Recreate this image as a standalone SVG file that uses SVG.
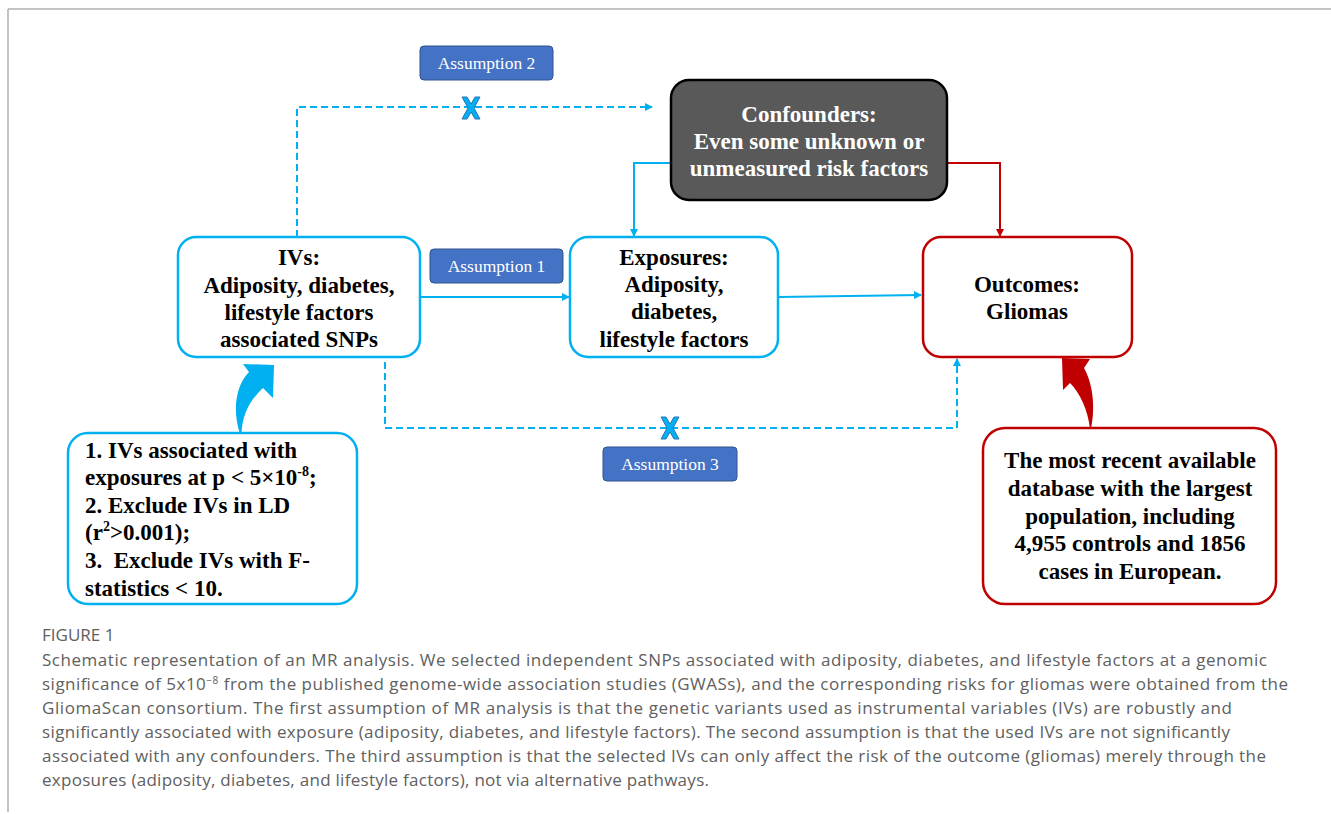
<svg xmlns="http://www.w3.org/2000/svg" xmlns:xlink="http://www.w3.org/1999/xlink" width="1331" height="814" viewBox="0 0 1331 814">
<style>
.nt{font-family:"Liberation Serif","Times New Roman",serif;font-weight:bold;font-size:23px;fill:#000;text-anchor:middle}
.nl{font-family:"Liberation Serif","Times New Roman",serif;font-weight:bold;font-size:23px;fill:#000;white-space:pre}
.wt{fill:#fff}
.bbox{fill:#fff;stroke:#00B0F0;stroke-width:2.5}
.rbox{fill:#fff;stroke:#C00000;stroke-width:2.5}
.abox{fill:#4472C4;stroke:#2F528F;stroke-width:1}
.at{font-family:"Liberation Serif","Times New Roman",serif;font-size:17.5px;fill:#fff;text-anchor:middle}
.cap{font-family:"Open Sans","Noto Sans",sans-serif;font-size:17px;fill:#606060}
.bl{fill:none;stroke:#00B0F0;stroke-width:2}
.dl{fill:none;stroke:#00B0F0;stroke-width:2;stroke-dasharray:7,4}
.rl{fill:none;stroke:#C00000;stroke-width:2}
</style>
<defs>
<marker id="ab" markerUnits="userSpaceOnUse" markerWidth="8" markerHeight="8" refX="7" refY="4" orient="auto"><path d="M0,0 L8,4 L0,8 z" fill="#00B0F0"/></marker>
<marker id="ar" markerUnits="userSpaceOnUse" markerWidth="8" markerHeight="8" refX="7" refY="4" orient="auto"><path d="M0,0 L8,4 L0,8 z" fill="#C00000"/></marker>
<path id="xm" d="M-9,-11 L-4,-11 L0,-4 L4,-11 L9,-11 L3,0 L9,11 L4,11 L0,4 L-4,11 L-9,11 L-3,0 Z" fill="#00B0F0" stroke="#2E75B6" stroke-width="1" stroke-linejoin="round"/>
</defs>

<g id="frame">
<path d="M8,9 H1331 M8,9 V812" fill="none" stroke="#B0B0B0" stroke-width="1.5"/>
</g>

<g id="connectors">
<path class="dl" d="M297,237 V107 H652" marker-end="url(#ab)"/>
<path class="dl" d="M385,362 V428 H957 V359" marker-end="url(#ab)"/>
<path class="bl" d="M671,163 H634 V236" marker-end="url(#ab)"/>
<path class="bl" d="M420,297 H569" marker-end="url(#ab)"/>
<path class="bl" d="M778,297 L921,295" marker-end="url(#ab)"/>
<path class="rl" d="M947,163 H1000 V236" marker-end="url(#ar)"/>
<use xlink:href="#xm" href="#xm" x="471" y="108"/>
<use xlink:href="#xm" href="#xm" x="670" y="428"/>
<path d="M240,434 C232,410 236,385 249,372 L243,364 L274,365 L273,398 L263,388 C250,400 242,415 241.5,434 Z" fill="#00B0F0"/>
<path d="M1091,429 C1096,405 1092,382 1084,368 L1090,359 L1062,358 L1063,390 L1070,383 C1080,393 1088,410 1090,429 Z" fill="#C00000"/>
</g>

<g id="assumption2">
<rect class="abox" x="420" y="46" width="133" height="34" rx="4"/>
<text class="at" x="486.5" y="69">Assumption 2</text>
</g>
<g id="assumption1">
<rect class="abox" x="430" y="249" width="133" height="34" rx="4"/>
<text class="at" x="496.5" y="272">Assumption 1</text>
</g>
<g id="assumption3">
<rect class="abox" x="603" y="447" width="134" height="34" rx="4"/>
<text class="at" x="670" y="470">Assumption 3</text>
</g>

<g id="confounders">
<rect x="671" y="80" width="276" height="120" rx="18" fill="#595959" stroke="#000" stroke-width="2.5"/>
<text class="nt wt" x="809" y="122">Confounders:</text>
<text class="nt wt" x="809" y="149">Even some unknown or</text>
<text class="nt wt" x="809" y="176">unmeasured risk factors</text>
</g>

<g id="ivs">
<rect class="bbox" x="178" y="237" width="242" height="120" rx="18"/>
<text class="nt" x="299" y="265">IVs:</text>
<text class="nt" x="299" y="293">Adiposity, diabetes,</text>
<text class="nt" x="299" y="320">lifestyle factors</text>
<text class="nt" x="299" y="347">associated SNPs</text>
</g>

<g id="exposures">
<rect class="bbox" x="570" y="237" width="208" height="120" rx="18"/>
<text class="nt" x="674" y="265">Exposures:</text>
<text class="nt" x="674" y="292">Adiposity,</text>
<text class="nt" x="674" y="319">diabetes,</text>
<text class="nt" x="674" y="347">lifestyle factors</text>
</g>

<g id="outcomes">
<rect class="rbox" x="923" y="237" width="209" height="120" rx="18"/>
<text class="nt" x="1027" y="292">Outcomes:</text>
<text class="nt" x="1027" y="319">Gliomas</text>
</g>

<g id="criteria">
<rect class="bbox" x="68" y="433" width="289" height="171" rx="20"/>
<text class="nl" x="85" y="458">1. IVs associated with</text>
<text class="nl" x="85" y="485">exposures at p &lt; 5×10<tspan font-size="14" dy="-9">-8</tspan><tspan dy="9">;</tspan></text>
<text class="nl" x="85" y="513">2. Exclude IVs in LD</text>
<text class="nl" x="85" y="540">(r<tspan font-size="14" dy="-9">2</tspan><tspan dy="9">&gt;0.001);</tspan></text>
<text class="nl" x="85" y="568">3.  Exclude IVs with F-</text>
<text class="nl" x="85" y="596">statistics &lt; 10.</text>
</g>

<g id="database">
<rect class="rbox" x="983" y="428" width="293" height="176" rx="22"/>
<text class="nt" x="1130" y="468">The most recent available</text>
<text class="nt" x="1130" y="496">database with the largest</text>
<text class="nt" x="1130" y="524">population, including</text>
<text class="nt" x="1130" y="551">4,955 controls and 1856</text>
<text class="nt" x="1130" y="579">cases in European.</text>
</g>

<g id="caption">
<text class="cap" x="42" y="641" font-size="13.5">FIGURE 1</text>
<text class="cap" x="42" y="666" textLength="1225">Schematic representation of an MR analysis. We selected independent SNPs associated with adiposity, diabetes, and lifestyle factors at a genomic</text>
<text class="cap" x="42" y="690" textLength="1246">significance of 5x10<tspan font-size="10" dy="-6">−8</tspan><tspan dy="6"> from the published genome-wide association studies (GWASs), and the corresponding risks for gliomas were obtained from the</tspan></text>
<text class="cap" x="42" y="714" textLength="1190">GliomaScan consortium. The first assumption of MR analysis is that the genetic variants used as instrumental variables (IVs) are robustly and</text>
<text class="cap" x="42" y="738" textLength="1188">significantly associated with exposure (adiposity, diabetes, and lifestyle factors). The second assumption is that the used IVs are not significantly</text>
<text class="cap" x="42" y="762" textLength="1224">associated with any confounders. The third assumption is that the selected IVs can only affect the risk of the outcome (gliomas) merely through the</text>
<text class="cap" x="42" y="786" textLength="667">exposures (adiposity, diabetes, and lifestyle factors), not via alternative pathways.</text>
</g>
</svg>
